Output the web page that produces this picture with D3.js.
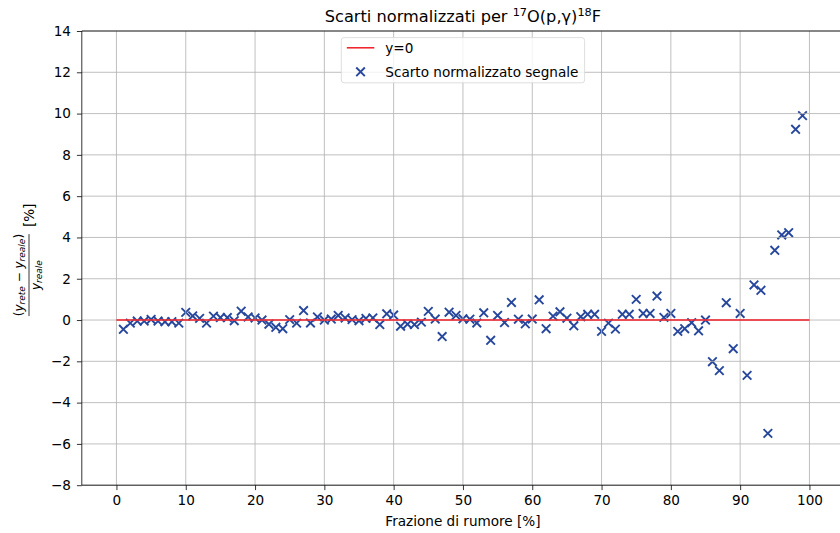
<!DOCTYPE html>
<html>
<head>
<meta charset="utf-8">
<script src="https://cdn.jsdelivr.net/npm/d3@7"></script>
<style>
  html, body { margin: 0; padding: 0; background: #fff; }
  svg { display: block; font-family: "DejaVu Sans", sans-serif; }
</style>
</head>
<body>
<svg id="chart" width="840" height="533"></svg>
<script>
// Noise fraction [%] of each test sample
const noiseFraction = [
   1,  2,  3,  4,  5,  6,  7,  8,  9, 10,
  11, 12, 13, 14, 15, 16, 17, 18, 19, 20,
  21, 22, 23, 24, 25, 26, 27, 28, 29, 30,
  31, 32, 33, 34, 35, 36, 37, 38, 39, 40,
  41, 42, 43, 44, 45, 46, 47, 48, 49, 50,
  51, 52, 53, 54, 55, 56, 57, 58, 59, 60,
  61, 62, 63, 64, 65, 66, 67, 68, 69, 70,
  71, 72, 73, 74, 75, 76, 77, 78, 79, 80,
  81, 82, 83, 84, 85, 86, 87, 88, 89, 90,
  91, 92, 93, 94, 95, 96, 97, 98, 99
];

// Normalized residual of the network signal [%]
const normResidual = [
  -0.45, -0.15, -0.05, -0.05,  0.03, -0.05, -0.08, -0.08, -0.15,  0.37,
   0.20,  0.08, -0.15,  0.19,  0.12,  0.12, -0.03,  0.43,  0.15,  0.10,
   0.00, -0.20, -0.35, -0.42,  0.02, -0.15,  0.46, -0.14,  0.15,  0.00,
   0.05,  0.22,  0.10,  0.02, -0.03,  0.08,  0.10, -0.22,  0.30,  0.24,
  -0.30, -0.20, -0.22, -0.10,  0.42,  0.05, -0.80,  0.38,  0.22,  0.06,
   0.04, -0.14,  0.35, -0.98,  0.22, -0.12,  0.85,  0.04, -0.18,  0.05,
   0.98, -0.42,  0.19,  0.40,  0.09, -0.28,  0.16,  0.28,  0.28, -0.55,
  -0.15, -0.44,  0.28,  0.28,  1.00,  0.32,  0.32,  1.16,  0.13,  0.32,
  -0.55, -0.42, -0.13, -0.52,  0.00, -2.02, -2.45,  0.84, -1.39,  0.32,
  -2.68,  1.70,  1.44, -5.49,  3.38,  4.12,  4.23,  9.24,  9.90
];

// Reference line y = 0
const refLineX = [0, 100];
const refLineY = [0, 0];

const xTicks = [0, 10, 20, 30, 40, 50, 60, 70, 80, 90, 100];
const yTicks = [-8, -6, -4, -2, 0, 2, 4, 6, 8, 10, 12, 14];

const xDomain = [-5, 105];
const yDomain = [-8, 14];

const FONT = 13.6;
const markerColor = "#26479b";
const lineColor = "#ee1c25";
const gridColor = "#b0b0b0";

const svg = d3.select("#chart");
const plot = { left: 81.8, right: 844.1, top: 31, bottom: 485.2 };

const x = d3.scaleLinear().domain(xDomain).range([plot.left, plot.right]);
const y = d3.scaleLinear().domain(yDomain).range([plot.bottom, plot.top]);

const fmt = v => String(v).replace("-", "\u2212");

// Scatter markers (drawn under the grid, like the default layering)
const mk = 4.3;
const pts = svg.append("g").attr("class", "points")
  .selectAll("path")
  .data(noiseFraction.map((d, i) => ({ x: d, y: normResidual[i] })))
  .join("path")
  .attr("d", d => {
    const cx = x(d.x), cy = y(d.y);
    return `M${cx - mk},${cy - mk}L${cx + mk},${cy + mk}M${cx - mk},${cy + mk}L${cx + mk},${cy - mk}`;
  })
  .attr("stroke", markerColor)
  .attr("stroke-width", 1.9)
  .attr("fill", "none");

// Grid lines
const grid = svg.append("g").attr("class", "grid");
grid.selectAll("line.vx").data(xTicks).join("line")
  .attr("x1", d => x(d)).attr("x2", d => x(d))
  .attr("y1", plot.top).attr("y2", plot.bottom)
  .attr("stroke", gridColor).attr("stroke-width", 0.8);
grid.selectAll("line.hy").data(yTicks).join("line")
  .attr("x1", plot.left).attr("x2", plot.right)
  .attr("y1", d => y(d)).attr("y2", d => y(d))
  .attr("stroke", gridColor).attr("stroke-width", 0.8);

// y = 0 reference line
svg.append("path")
  .datum(refLineX.map((d, i) => [d, refLineY[i]]))
  .attr("d", d3.line().x(d => x(d[0])).y(d => y(d[1])))
  .attr("stroke", lineColor)
  .attr("stroke-width", 1.5)
  .attr("fill", "none");

// Axes
const xAxis = d3.axisBottom(x).tickValues(xTicks).tickFormat(fmt)
  .tickSize(4.9).tickSizeOuter(0).tickPadding(5);
const yAxis = d3.axisLeft(y).tickValues(yTicks).tickFormat(fmt)
  .tickSize(4.9).tickSizeOuter(0).tickPadding(5.9);

const gx = svg.append("g").attr("transform", `translate(0,${plot.bottom})`).call(xAxis);
const gy = svg.append("g").attr("transform", `translate(${plot.left},0)`).call(yAxis);
[gx, gy].forEach(g => {
  g.select(".domain").remove();
  g.selectAll(".tick line").attr("stroke", "#000").attr("stroke-width", 0.8);
  g.selectAll(".tick text")
    .attr("fill", "#000")
    .style("font-family", "'DejaVu Sans', sans-serif")
    .style("font-size", FONT + "px");
});

// Spines
const spines = svg.append("g").attr("stroke", "#000").attr("stroke-width", 0.8);
spines.append("line").attr("x1", plot.left).attr("x2", plot.left).attr("y1", plot.top).attr("y2", plot.bottom);
spines.append("line").attr("x1", plot.right).attr("x2", plot.right).attr("y1", plot.top).attr("y2", plot.bottom);
spines.append("line").attr("x1", plot.left).attr("x2", plot.right).attr("y1", plot.top).attr("y2", plot.top);
spines.append("line").attr("x1", plot.left).attr("x2", plot.right).attr("y1", plot.bottom).attr("y2", plot.bottom);

const cx = (plot.left + plot.right) / 2;

// Title
const title = svg.append("text")
  .attr("x", cx).attr("y", 22)
  .attr("text-anchor", "middle")
  .style("font-size", "16.2px")
  .attr("fill", "#000");
title.append("tspan").text("Scarti normalizzati per ");
title.append("tspan").attr("dy", -6).style("font-size", "11.3px").text("17");
title.append("tspan").attr("dy", 6).text("O(p,\u03b3)");
title.append("tspan").attr("dy", -6).style("font-size", "11.3px").text("18");
title.append("tspan").attr("dy", 6).text("F");

// X axis label
svg.append("text")
  .attr("x", cx).attr("y", 525.5)
  .attr("text-anchor", "middle")
  .style("font-size", FONT + "px")
  .text("Frazione di rumore [%]");

// Y axis label: fraction (y_rete − y_reale) / y_reale followed by [%]
const yl = svg.append("g").attr("transform", `translate(29,${(plot.top + plot.bottom) / 2}) rotate(-90)`);
const fracC = -17;
const num = yl.append("text")
  .attr("x", fracC).attr("y", -6.5)
  .attr("text-anchor", "middle")
  .style("font-size", "12px");
num.append("tspan").text("(");
num.append("tspan").style("font-style", "italic").text("y");
num.append("tspan").attr("dy", 2.5).style("font-size", "9px").style("font-style", "italic").text("rete");
num.append("tspan").attr("dy", -2.5).text(" \u2212 ");
num.append("tspan").style("font-style", "italic").text("y");
num.append("tspan").attr("dy", 2.5).style("font-size", "9px").style("font-style", "italic").text("reale");
num.append("tspan").attr("dy", -2.5).text(")");

yl.append("line")
  .attr("x1", fracC - 41).attr("x2", fracC + 41)
  .attr("y1", 0).attr("y2", 0)
  .attr("stroke", "#000").attr("stroke-width", 0.8);

const den = yl.append("text")
  .attr("x", fracC).attr("y", 10.5)
  .attr("text-anchor", "middle")
  .style("font-size", "12px");
den.append("tspan").style("font-style", "italic").text("y");
den.append("tspan").attr("dy", 2.5).style("font-size", "9px").style("font-style", "italic").text("reale");

yl.append("text")
  .attr("x", 31).attr("y", 5)
  .style("font-size", FONT + "px")
  .text("[%]");

// Legend
const lg = svg.append("g").attr("class", "legend");
const lgW = 243.3, lgH = 45.2;
const lgX = cx - lgW / 2, lgY = plot.top + 6.6;
lg.append("rect")
  .attr("x", lgX).attr("y", lgY)
  .attr("width", lgW).attr("height", lgH)
  .attr("rx", 2.8)
  .attr("fill", "rgba(255,255,255,0.8)")
  .attr("stroke", "#d6d6d6").attr("stroke-width", 0.8);
const hx0 = lgX + 5.5, hx1 = hx0 + 27.5;
const row1 = lgY + 10.2, row2 = lgY + 34.2;
lg.append("line")
  .attr("x1", hx0).attr("x2", hx1).attr("y1", row1).attr("y2", row1)
  .attr("stroke", lineColor).attr("stroke-width", 1.5);
lg.append("text").attr("x", hx1 + 11).attr("y", row1 + 4.9)
  .style("font-size", FONT + "px").text("y=0");
const mx = (hx0 + hx1) / 2;
lg.append("path")
  .attr("d", `M${mx - mk},${row2 - mk}L${mx + mk},${row2 + mk}M${mx - mk},${row2 + mk}L${mx + mk},${row2 - mk}`)
  .attr("stroke", markerColor).attr("stroke-width", 1.9).attr("fill", "none");
lg.append("text").attr("x", hx1 + 11).attr("y", row2 + 4.9)
  .style("font-size", FONT + "px").text("Scarto normalizzato segnale");
</script>
</body>
</html>
